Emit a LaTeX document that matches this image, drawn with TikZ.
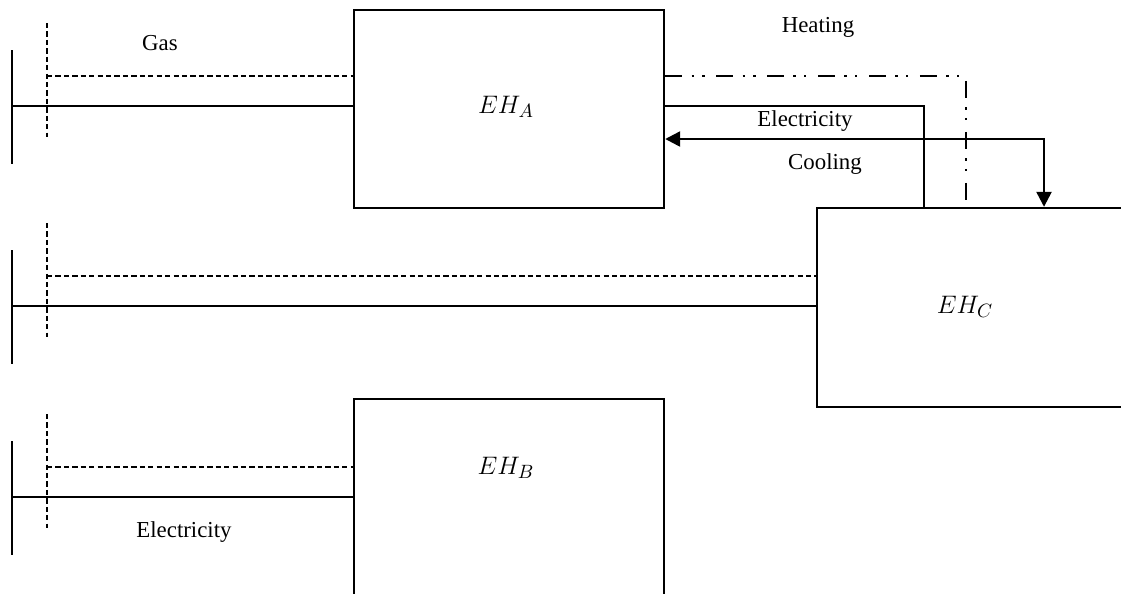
\documentclass[tikz,border=0pt]{standalone}
\usepackage{fontspec}
\setmainfont{Liberation Serif}
\usetikzlibrary{arrows.meta}

\tikzset{
    hub/.style={draw, rectangle, line width=1.4pt, inner sep=0pt},
    hubname/.style={font=\fontsize{15.5}{18}\selectfont},
    flowname/.style={font=\fontsize{13}{15}\selectfont},
    elecline/.style={line width=1.4pt},
    gasline/.style={line width=1.4pt, dash pattern=on 3pt off 1.8pt},
    heatline/.style={line width=1.4pt, dash pattern=on 9.6pt off 5.4pt on 1.3pt off 4.8pt on 1.3pt off 6.6pt},
    coolline/.style={line width=1.4pt, {Triangle[length=8.5pt,width=8.5pt]}-{Triangle[length=8.5pt,width=8.5pt]}}
}

\begin{document}
\begin{tikzpicture}[x=0.02cm, y=-0.02cm]
        \useasboundingbox (0, 0) rectangle (1121, 593);
        \clip (0, 0) rectangle (1121, 593);

        % energy hubs
        \node[hub, minimum width=6.2cm, minimum height=3.96cm] (EHA) at (509, 109) {};
        \node[hub, minimum width=7.66cm, minimum height=3.98cm] (EHC) at (1008.5, 307.5) {};
        \node[hub, minimum width=6.2cm, minimum height=4.82cm] (EHB) at (509, 519.5) {};
        \node[hubname] (EHAname) at (506, 107) {$EH_A$};
        \node[hubname] (EHCname) at (965, 307) {$EH_C$};
        \node[hubname] (EHBname) at (506, 468) {$EH_B$};

        % buses
        \foreach \y/\n in {106/A, 306/C, 497/B} {
            \draw[elecline] (12, \y-56) -- (12, \y+58);
            \draw[gasline] (47, \y-83) -- (47, \y+31);
            \coordinate (el\n) at (12, \y);
            \coordinate (gas\n) at (47, \y-30);
        }

        \draw[elecline] (elA) -- (elA -| EHA.west);
        \draw[gasline] (gasA) -- (gasA -| EHA.west);
        \draw[elecline] (elC) -- (elC -| EHC.west);
        \draw[gasline] (gasC) -- (gasC -| EHC.west);
        \draw[elecline] (elB) -- (elB -| EHB.west);
        \draw[gasline] (gasB) -- (gasB -| EHB.west);

        % links between EH_A and EH_C
        \coordinate (heatC) at (966, 208);
        \coordinate (elecC) at (924, 208);
        \coordinate (coolBend) at (1044, 139);
        \draw[heatline] (EHA.east |- gasA) -| (heatC);
        \draw[elecline] (EHA.east |- elA) -| (elecC);
        \draw[coolline] (EHA.east |- coolBend) -- (coolBend) -- (coolBend |- EHC.north);

        \node[flowname] (gasText) at (160, 43) {Gas};
        \node[flowname] (heatText) at (818, 27) {Heating};
        \node[flowname] (elecText) at (805, 121) {Electricity};
        \node[flowname] (coolText) at (825, 164) {Cooling};
        \node[flowname] (elecBText) at (184, 532) {Electricity};
    \end{tikzpicture}
\end{document}
